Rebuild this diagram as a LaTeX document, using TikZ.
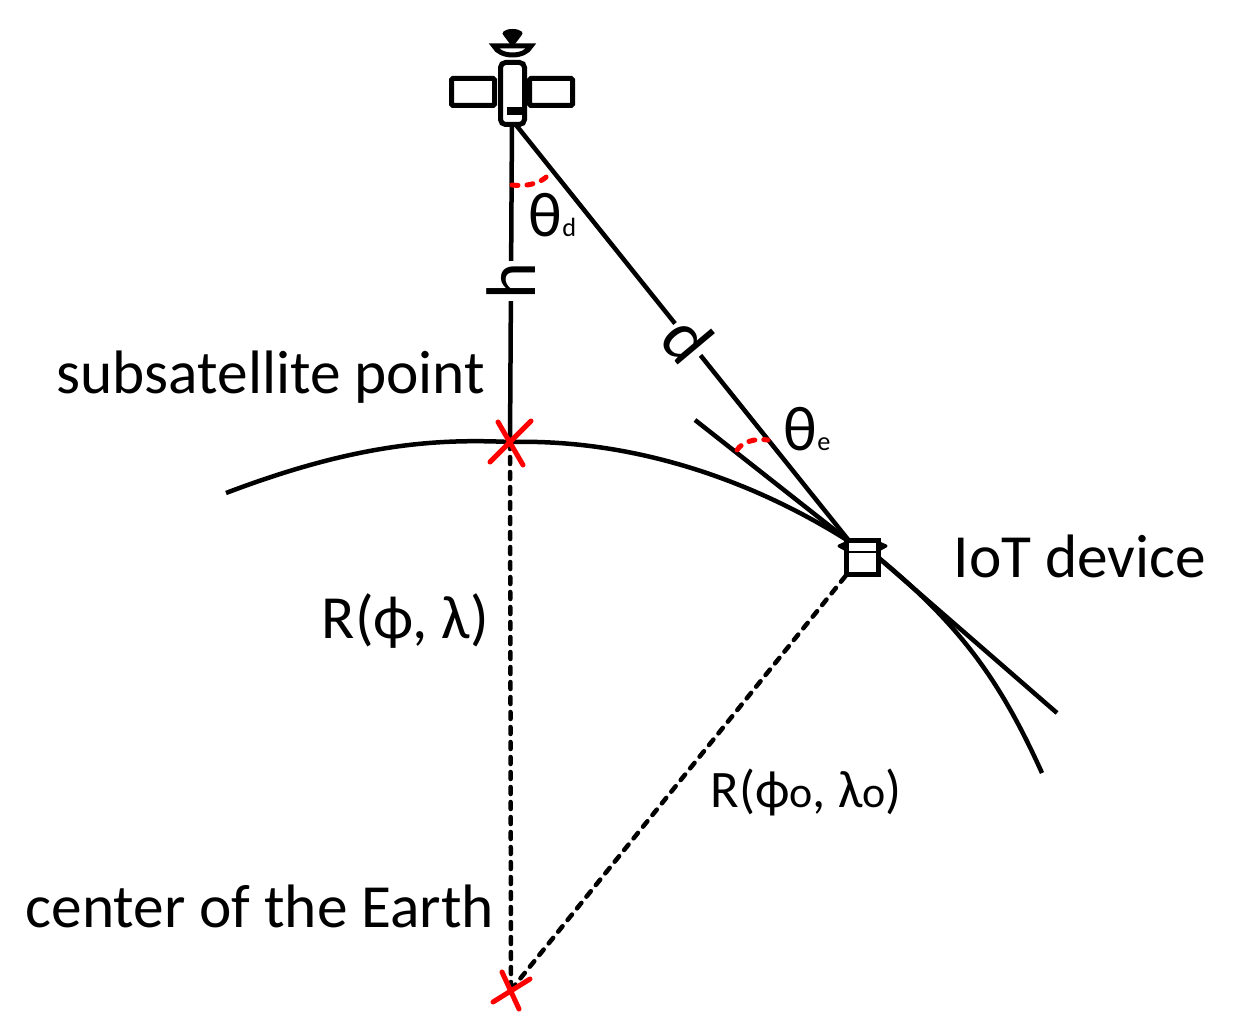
\documentclass[tikz,border=0pt]{standalone}
\usepackage{fontspec}
\setmainfont{Carlito}
\tikzset{
    solidline/.style={line width=0.45mm, black},
    dotline/.style={line width=0.45mm, black, dash pattern=on 0.7mm off 0.8mm, line cap=round},
    anglearc/.style={line width=0.5mm, red, dash pattern=on 0.6mm off 0.9mm, line cap=round},
    redcross/.style={line width=0.5mm, red, line cap=round},
    label/.style={font=\fontsize{17.45pt}{20pt}\selectfont, inner sep=0pt},
    thetalabel/.style={font=\fontsize{18pt}{22pt}\selectfont, inner sep=0pt},
    onlinelabel/.style={font=\fontsize{20pt}{22pt}\selectfont, fill=white, inner sep=0.5pt},
    box/.style={draw, line width=0.5mm, fill=white, rounded corners=0.15mm, inner sep=0pt, minimum width=#1},
}
\begin{document}
\begin{tikzpicture}[x=1cm, y=-1cm]
    \useasboundingbox (0,0) rectangle (12.36,10.34);

    % Draw anchor points
    \coordinate (sat) at (5.12,1.2);
    \coordinate (sub) at (5.10,4.42);
    \coordinate (center) at (5.11,9.90);
    \coordinate (dev) at (8.50,5.42);
    \coordinate (tangentstart) at (6.95,4.20);
    \coordinate (tangentend) at (10.57,7.13);
    \node[minimum width=3.0mm, minimum height=3.25mm, inner sep=0pt] (device) at (8.625,5.575) {};

    % Draw the Earth surface and the tangent
    \draw[solidline] (2.26,4.93) .. controls (3.6,4.42) and (4.4,4.39) .. (sub)
        .. controls (6.2,4.39) and (7.4,4.72) .. (dev);
    \draw[solidline] (device.east) .. controls (9.6,6.25) and (10.0,6.8) .. (10.42,7.73);
    \draw[solidline] (tangentstart) -- (dev);
    \draw[solidline] (device.east) -- (tangentend);

    % Draw the distances
    \draw[dotline] (sub) -- (center);
    \draw[dotline] (center) -- (device.south west);
    \draw[solidline] (sat) -- node[onlinelabel, rotate=90, pos=0.50] (hlabel) {h} (sub);
    \draw[solidline] (sat) -- node[onlinelabel, rotate=-50, pos=0.52] (dlabel) {d} (dev);

    % Draw the red crosses
    \draw[redcross] (4.98,4.22) -- (5.23,4.65) (5.31,4.21) -- (4.90,4.62);
    \draw[redcross] (5.02,9.72) -- (5.19,10.09) (5.30,9.79) -- (4.93,10.02);

    % Draw the angles
    \draw[anglearc] (5.12,1.85) .. controls (5.3,1.87) and (5.45,1.82) .. (5.51,1.71);
    \draw[anglearc] (7.37,4.50) .. controls (7.42,4.42) and (7.55,4.38) .. (7.68,4.40);

    % Draw the IoT device
    \draw[line width=0.3mm, fill=black, line join=round] (8.50,5.41) -- (8.39,5.46) -- (8.50,5.52) -- cycle;
    \draw[line width=0.3mm, fill=black, line join=round] (8.75,5.41) -- (8.86,5.46) -- (8.75,5.52) -- cycle;
    \draw[line width=0.5mm, fill=white] (device.south west) rectangle (device.north east);
    \draw[line width=0.15mm] (device.west |- 0,5.52) -- (device.east |- 0,5.52);

    % Draw the satellite
    \node[box=4.3mm, minimum height=2.7mm] (leftpanel) at (4.73,0.92) {};
    \node[box=4.3mm, minimum height=2.7mm] (rightpanel) at (5.51,0.92) {};
    \node[box=2.4mm, minimum height=6.2mm, rounded corners=0.5mm] (body) at (5.125,0.935) {};
    \draw[line width=0.8mm] (5.07,1.11) -- (5.23,1.11);
    \draw[line width=0.5mm] (4.94,0.46) .. controls (5.0,0.58) and (5.25,0.58) .. (5.31,0.46) -- cycle;
    \fill (5.125,0.29) .. controls (5.21,0.29) and (5.25,0.33) .. (5.21,0.36) -- (5.15,0.44) -- (5.10,0.44)
        -- (5.04,0.36) .. controls (5.0,0.33) and (5.04,0.29) .. (5.125,0.29) -- cycle;

    % Add the labels
    \node[label, anchor=base west] (sublabel) at (0.56,3.93) {subsatellite point};
    \node[label, anchor=base west] (centerlabel) at (0.25,9.27) {center of the Earth};
    \node[label, anchor=base west] (iotlabel) at (9.53,5.77) {IoT device};
    \node[label, anchor=base west] (rlabel) at (3.21,6.38) {R(ϕ, λ)};
    \node[label, anchor=base west, font=\fontsize{15pt}{18pt}\selectfont] (rolabel) at (7.10,8.07) {R(ϕ{\fontsize{12.5pt}{14pt}\selectfont o}, λ{\fontsize{12.5pt}{14pt}\selectfont o})};
    \node[thetalabel, anchor=base west] (thetad) at (5.28,2.37) {θ{\fontsize{7.5pt}{10pt}\selectfont d}};
    \node[thetalabel, anchor=base west] (thetae) at (7.83,4.50) {θ{\fontsize{7.5pt}{10pt}\selectfont e}};

\end{tikzpicture}
\end{document}
